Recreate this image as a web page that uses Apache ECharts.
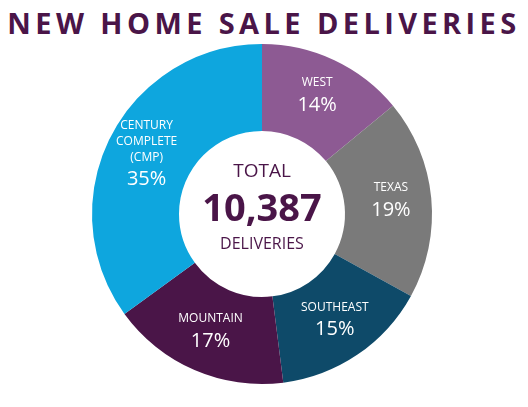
<!DOCTYPE html>
<html><head><meta charset="utf-8">
<script src="https://cdn.jsdelivr.net/npm/echarts@6/dist/echarts.min.js"></script>
<style>
html,body{margin:0;padding:0;background:#fff;}
#t{position:absolute;left:0;top:3px;width:528px;text-align:center;font-family:'Open Sans',sans-serif;font-weight:700;font-size:29px;letter-spacing:4.4px;color:#4a1548;}
#c{width:528px;height:407px;}
</style></head><body>
<div id="t">NEW HOME SALE DELIVERIES</div>
<div id="c"></div>
<script>
const regions = ['WEST','TEXAS','SOUTHEAST','MOUNTAIN','CENTURY\nCOMPLETE\n(CMP)'];
const shares = [14,19,15,17,35];
const colors = ['#8d5a93','#7a7a7a','#0e4a69','#4a1548','#0ea6de'];
const total = '10,387';
const chart = echarts.init(document.getElementById('c'));
chart.setOption({
  animation:false,
  series:[{
    type:'pie', center:[262,214], radius:[83,170], startAngle:90, clockwise:true,
    data: regions.map((r,i)=>({name:r,value:shares[i],itemStyle:{color:colors[i]}})),
    itemStyle:{borderWidth:0},
    label:{position:'inside',color:'#fff',fontFamily:'Open Sans',
      formatter:p=>'{n|'+p.name+'}\n{v|'+p.value+'%}',
      rich:{n:{fontSize:12,lineHeight:16,color:'#fff',align:'center'},v:{fontSize:20,lineHeight:28,color:'#fff'}}},
    labelLine:{show:false}
  }],
  graphic:[{type:'text',style:{text:'TOTAL',x:262,y:162,textAlign:'center',fontSize:19,fill:'#4a1548',fontFamily:'Open Sans'}},
   {type:'text',style:{text:total,x:262,y:191,textAlign:'center',fontSize:38,fontWeight:'bold',fill:'#4a1548',fontFamily:'Open Sans'}},
   {type:'text',style:{text:'DELIVERIES',x:262,y:236,textAlign:'center',fontSize:16,fill:'#4a1548',fontFamily:'Open Sans'}}]
});
</script></body></html>
